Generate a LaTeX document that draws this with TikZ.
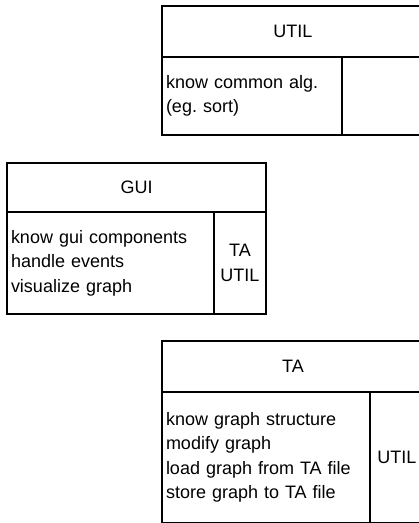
\documentclass[tikz,border=0pt]{standalone}
\usepackage{fontspec}
\setmainfont{Liberation Sans}
\usetikzlibrary{positioning}
\frenchspacing

\tikzset{
  card/.style={draw, line width=2pt, outer sep=0pt, inner sep=0pt},
  cardhead/.style={card, anchor=north west},
  cardresp/.style={card, align=left, inner xsep=4pt},
  cardcollab/.style={card, align=center}
}

\begin{document}
\begin{tikzpicture}[x=1pt, y=-1pt, font=\fontsize{18}{24.5}\selectfont]
    \useasboundingbox (0,0) rectangle (419,523);
    \clip (0,0) rectangle (419,523);

    % UTIL
    \node[cardhead, minimum width=262pt, minimum height=51pt] (utilhead) at (162,6) {UTIL};
    \node[cardresp, text width=172pt, minimum height=78pt, below right=0pt and 0pt of utilhead.south west] (utilresp)
        {know common alg.\\(eg. sort)};
    \node[cardcollab, minimum width=82pt, minimum height=78pt, right=0pt of utilresp] (utilcollab) {};

    % GUI
    \node[cardhead, minimum width=259pt, minimum height=49pt] (guihead) at (7,163) {GUI};
    \node[cardresp, text width=199pt, minimum height=102pt, below right=0pt and 0pt of guihead.south west] (guiresp)
        {know gui components\\handle events\\visualize graph};
    \node[cardcollab, minimum width=52pt, minimum height=102pt, right=0pt of guiresp] (guicollab) {TA\\UTIL};

    % TA
    \node[cardhead, minimum width=262pt, minimum height=51pt] (tahead) at (162,341) {TA};
    \node[cardresp, text width=200pt, minimum height=131pt, below right=0pt and 0pt of tahead.south west] (taresp)
        {know graph structure\\modify graph\\load graph from TA file\\store graph to TA file};
    \node[cardcollab, minimum width=54pt, minimum height=131pt, right=0pt of taresp] (tacollab) {UTIL};

\end{tikzpicture}
\end{document}
